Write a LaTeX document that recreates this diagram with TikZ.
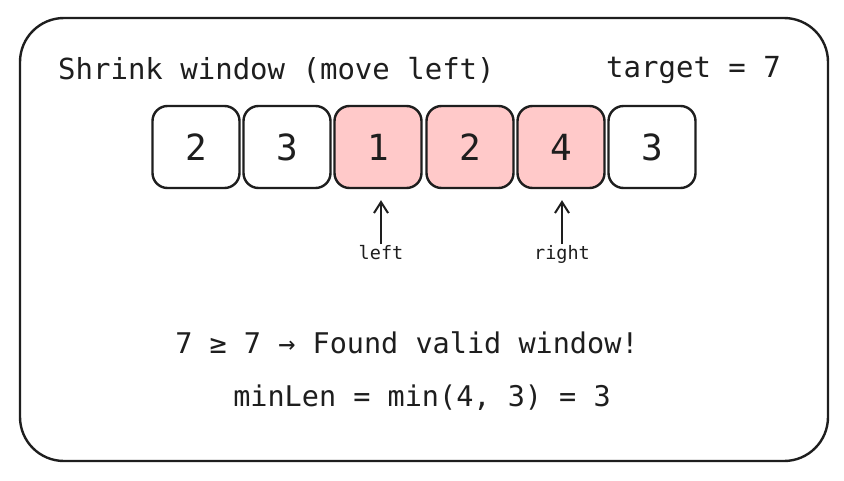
\documentclass[tikz,border=0pt]{standalone}
\usepackage{fontspec}
\setmonofont{DejaVu Sans Mono}
\usetikzlibrary{arrows.meta}
\definecolor{ink}{HTML}{1E1E1E}
\definecolor{pinkfill}{HTML}{FFC9C9}
\begin{document}
\begin{tikzpicture}[x=1pt,y=-1pt,
  cell/.style={draw=ink,line width=2.4pt,rounded corners=15pt,minimum width=87pt,minimum height=82pt,inner sep=0pt,font=\ttfamily\fontsize{36}{40}\selectfont,text=ink},
  hot/.style={cell,fill=pinkfill},
  ptr/.style={font=\ttfamily\fontsize{18.5}{20}\selectfont,text=ink,inner sep=1pt},
  ptrarrow/.style={draw=ink,line width=2pt,-{Straight Barb[length=11pt,width=14pt,line width=2pt]},shorten >=11pt},
  big/.style={font=\ttfamily\fontsize{28.5}{32}\selectfont,text=ink,inner sep=0pt},
  head/.style={font=\ttfamily\fontsize{29}{32}\selectfont,text=ink,inner sep=0pt}]
\useasboundingbox (0,0) rectangle (844,480);
\fill[white] (0,0) rectangle (844,480);
\draw[ink,line width=2.4pt,rounded corners=44pt] (20,18) rectangle (828,461);
\node[head,anchor=west] (title) at (58,70) {Shrink window (move left)};
\node[head,anchor=east] (target) at (781,70) {target = 7};
\node[cell] (c1) at (196,147) {2};
\node[cell] (c2) at (287,147) {3};
\node[hot] (c3) at (378,147) {1};
\node[hot] (c4) at (470,147) {2};
\node[hot] (c5) at (561,147) {4};
\node[cell] (c6) at (652,147) {3};
\node[ptr,anchor=north] (lp) at (381,244) {left};
\node[ptr,anchor=north] (rp) at (562,244) {right};
\draw[ptrarrow] (lp.north -| c3) ++(3,0) coordinate (la) -- (la |- c3.south);
\draw[ptrarrow] (rp.north -| c5) ++(1,0) coordinate (ra) -- (ra |- c5.south);
\node[big] (found) at (407,343) {7 ≥ 7 → Found valid window!};
\node[big] (minlen) at (422,398) {minLen = min(4, 3) = 3};
\end{tikzpicture}
\end{document}
